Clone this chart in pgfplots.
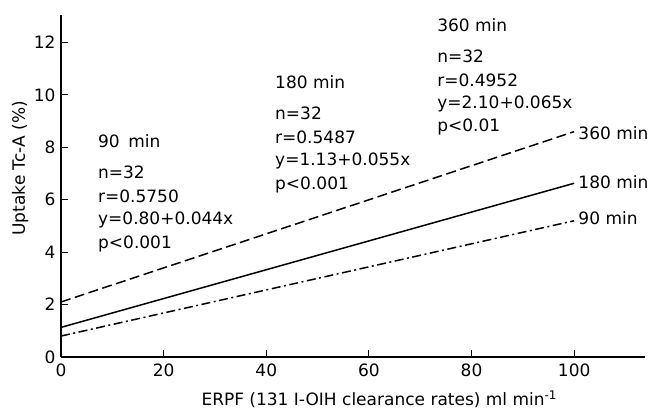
\documentclass[border=0pt]{standalone}
\usepackage{fontspec}
\setmainfont{DejaVu Sans}
\usepackage{pgfplots}
\pgfplotsset{compat=1.18}
\newcommand{\fs}{\fontsize{17}{20}\selectfont}
\begin{document}
\begin{tikzpicture}
\useasboundingbox (-61pt,-51pt) rectangle (597pt,357pt);
\begin{axis}[
  at={(0,0)}, anchor=south west,
  scale only axis, width=584pt, height=342pt,
  xmin=0, xmax=113.8, ymin=0, ymax=13.05,
  axis x line=bottom, axis y line=left,
  axis line style={-, line width=1.2pt, black},
  xtick={0,20,...,100}, ytick={0,2,...,12},
  tick align=inside, major tick length=7pt,
  tick style={line width=1pt, black},
  /pgf/number format/assume math mode=true,
  tick label style={font=\fs},
  xticklabel style={yshift=-3pt},
  yticklabel style={xshift=-2pt},
  label style={font=\fs},
  xlabel={ERPF (131 I-OIH clearance rates) ml min\textsuperscript{-1}},
  ylabel={Uptake Tc-A (\%)},
  xlabel style={at={(axis description cs:0.545,0)}, anchor=center, yshift=-42pt},
  ylabel style={at={(axis description cs:-0.07,0.552)}, anchor=center},
  clip=false,
]
\addplot[black, line width=1.5pt, dash pattern=on 10pt off 4.5pt] coordinates {(0,2.10) (100,8.60)};
\addplot[black, line width=1.5pt] coordinates {(0,1.13) (100,6.63)};
\addplot[black, line width=1.5pt, dash pattern=on 9pt off 3.5pt on 2pt off 3.5pt] coordinates {(0,0.80) (100,5.20)};

\node[anchor=west, inner sep=0pt, font=\fs] at (axis cs:7.2,8.24) {90\hspace{0.5em}min};
\node[anchor=west, inner sep=0pt, font=\fs] at (axis cs:7.2,7.06) {n=32};
\node[anchor=west, inner sep=0pt, font=\fs] at (axis cs:7.2,6.15) {r=0.5750};
\node[anchor=west, inner sep=0pt, font=\fs] at (axis cs:7.2,5.23) {y=0.80+0.044x};
\node[anchor=west, inner sep=0pt, font=\fs] at (axis cs:7.2,4.31) {p<0.001};

\node[anchor=west, inner sep=0pt, font=\fs] at (axis cs:41.7,10.50) {180 min};
\node[anchor=west, inner sep=0pt, font=\fs] at (axis cs:41.7,9.31) {n=32};
\node[anchor=west, inner sep=0pt, font=\fs] at (axis cs:41.7,8.40) {r=0.5487};
\node[anchor=west, inner sep=0pt, font=\fs] at (axis cs:41.7,7.48) {y=1.13+0.055x};
\node[anchor=west, inner sep=0pt, font=\fs] at (axis cs:41.7,6.56) {p<0.001};

\node[anchor=west, inner sep=0pt, font=\fs] at (axis cs:73.3,12.67) {360 min};
\node[anchor=west, inner sep=0pt, font=\fs] at (axis cs:73.3,11.49) {n=32};
\node[anchor=west, inner sep=0pt, font=\fs] at (axis cs:73.3,10.57) {r=0.4952};
\node[anchor=west, inner sep=0pt, font=\fs] at (axis cs:73.3,9.66) {y=2.10+0.065x};
\node[anchor=west, inner sep=0pt, font=\fs] at (axis cs:73.3,8.78) {p<0.01};

\node[anchor=west, inner sep=0pt, font=\fs] at (axis cs:100.8,8.55) {360 min};
\node[anchor=west, inner sep=0pt, font=\fs] at (axis cs:100.8,6.68) {180 min};
\node[anchor=west, inner sep=0pt, font=\fs] at (axis cs:100.8,5.31) {90 min};
\end{axis}
\end{tikzpicture}
\end{document}
